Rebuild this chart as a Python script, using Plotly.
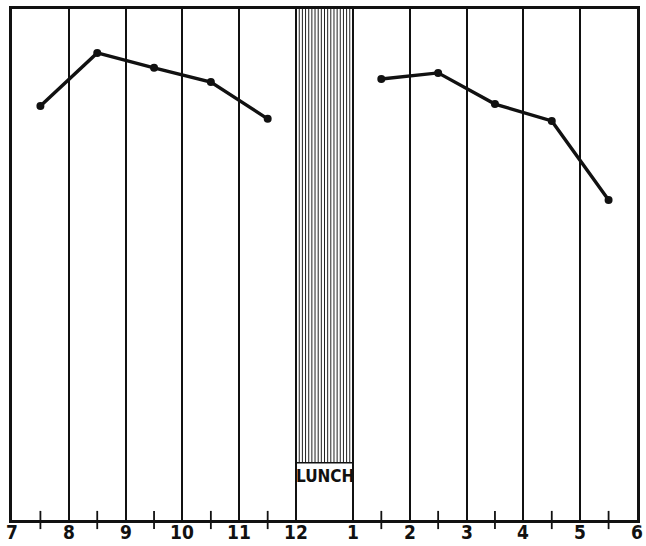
import plotly.graph_objects as go

# Hours on the axis (7 AM .. 6 PM), expressed on a continuous 7..18 scale
hour_positions = [7, 8, 9, 10, 11, 12, 13, 14, 15, 16, 17, 18]
hour_labels = ["7", "8", "9", "10", "11", "12", "1", "2", "3", "4", "5", "6"]

# Half-hour marks on the baseline (none during lunch)
half_hour_ticks = [7.5, 8.5, 9.5, 10.5, 11.5, 13.5, 14.5, 15.5, 16.5, 17.5]

# Morning and afternoon readings (relative scale 0-100)
morning_x = [7.5, 8.5, 9.5, 10.5, 11.5]
morning_y = [81.0, 91.4, 88.5, 85.7, 78.5]
afternoon_x = [13.5, 14.5, 15.5, 16.5, 17.5]
afternoon_y = [86.3, 87.5, 81.4, 78.1, 62.6]

# Lunch period
lunch_start = 12
lunch_end = 13
lunch_hatch_bottom = 11.2
lunch_label = "LUNCH"
hatch_intervals = 18

y_top = 100

FONT = "Liberation Sans Narrow, DejaVu Sans Condensed, sans-serif"

fig = go.Figure()

# hatching of lunch period
shapes = []
for k in range(1, hatch_intervals):
    xv = lunch_start + (lunch_end - lunch_start) * k / hatch_intervals
    shapes.append(dict(type="line", xref="x", yref="y", x0=xv, x1=xv,
                       y0=lunch_hatch_bottom, y1=y_top,
                       line=dict(color="#222", width=1)))
shapes.append(dict(type="line", xref="x", yref="y", x0=lunch_start, x1=lunch_end,
                   y0=lunch_hatch_bottom, y1=lunch_hatch_bottom,
                   line=dict(color="#111", width=1.5)))

fig.add_trace(go.Scatter(
    x=morning_x, y=morning_y, mode="lines+markers",
    line=dict(color="#111", width=3.4),
    marker=dict(color="#111", size=8), showlegend=False))
fig.add_trace(go.Scatter(
    x=afternoon_x, y=afternoon_y, mode="lines+markers",
    line=dict(color="#111", width=3.4),
    marker=dict(color="#111", size=8), showlegend=False))

# half-hour tick marks crossing the baseline
fig.add_trace(go.Scatter(
    x=half_hour_ticks, y=[0] * len(half_hour_ticks), mode="markers",
    marker=dict(symbol="line-ns", size=13, line=dict(color="#111", width=1.8)),
    cliponaxis=False, showlegend=False, hoverinfo="skip"))

fig.add_annotation(x=(lunch_start + lunch_end) / 2, y=lunch_hatch_bottom,
                   xref="x", yref="y", yanchor="top", yshift=-1,
                   text="<b>" + lunch_label + "</b>", showarrow=False,
                   font=dict(family=FONT, size=17, color="#111"))

# hour labels below the baseline
for pos, lab in zip(hour_positions, hour_labels):
    fig.add_annotation(x=pos, y=0, xref="x", yref="paper", yanchor="top",
                       yshift=0, borderpad=0, text="<b>" + lab + "</b>",
                       showarrow=False,
                       font=dict(family=FONT, size=19, color="#111"))

fig.update_layout(
    width=646, height=546,
    margin=dict(l=12, r=9, t=9, b=26),
    paper_bgcolor="white", plot_bgcolor="white",
    shapes=shapes,
    xaxis=dict(range=[7, 18], tickmode="array", tickvals=hour_positions,
               showticklabels=False,
               showgrid=True, gridcolor="#111", gridwidth=2,
               showline=True, linecolor="#111", linewidth=3, mirror=True,
               zeroline=False, ticks="", automargin=False),
    yaxis=dict(range=[0, y_top], showgrid=False, zeroline=False,
               showticklabels=False, ticks="",
               showline=True, linecolor="#111", linewidth=3, mirror=True,
               automargin=False),
)

fig.write_html("out.html", config={"displayModeBar": False},
               post_script="document.body.style.margin='0';")
